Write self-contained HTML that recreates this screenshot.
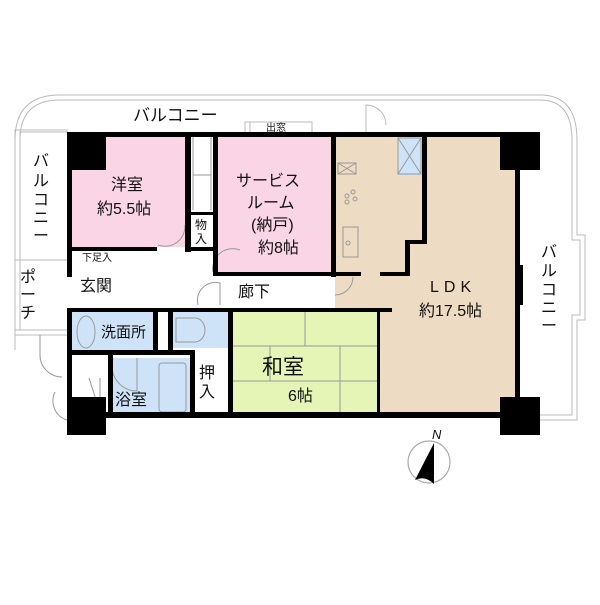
<!DOCTYPE html>
<html><head><meta charset="utf-8"><style>
body{margin:0;background:#fff}
svg text{font-family:"Liberation Sans","Noto Sans CJK JP",sans-serif;fill:#111}
</style></head><body>
<svg width="600" height="600" viewBox="0 0 600 600" xmlns="http://www.w3.org/2000/svg">
<g fill="none" stroke="#bbb" stroke-width="1">
<path d="M67,132 V130 H15 V140 Q15,95 60,95 H540 Q577,95 577,140 V235 H585 V320 H577 V420 H540"/>
<path d="M67,132 H20 V140 Q20,100 60,100 H540 Q572,100 572,140 V240 H580 V315 H572 V415 H540"/>
<path d="M15,140 V330 M20,140 V330 M15,260 H67 M15,330 H67 M15,335 H67 M15,330 V350"/>
<path d="M245,132 V122 H312 V132 M250,122 V132"/>
<path d="M366,132 V105 A20,20 0 0 1 386,125"/>
</g>
<rect x="72" y="137" width="113" height="110" fill="#f9d5e5"/>
<rect x="218" y="137" width="114" height="136" fill="#f9d5e5"/>
<rect x="335" y="137" width="92" height="135" fill="#eddcc3"/>
<rect x="427" y="137" width="93" height="278" fill="#eddcc3"/>
<rect x="335" y="272" width="92" height="38" fill="#eddcc3"/>
<rect x="378" y="308" width="50" height="107" fill="#eddcc3"/>
<rect x="232" y="310" width="146" height="105" fill="#e4f5b5"/>
<rect x="72" y="312" width="81" height="40" fill="#cfe3f8"/>
<rect x="172" y="312" width="56" height="36" fill="#cfe3f8"/>
<rect x="112" y="358" width="78" height="57" fill="#cfe3f8"/>
<rect x="397" y="137" width="25" height="38" fill="#cfe3f8"/>
<g stroke="#999" stroke-width="1" fill="none">
<line x1="232" y1="346" x2="378" y2="346"/><line x1="232" y1="381" x2="378" y2="381"/>
<line x1="305" y1="310" x2="305" y2="346"/><line x1="270" y1="346" x2="270" y2="381"/>
<line x1="340" y1="346" x2="340" y2="415"/>
<rect x="159" y="363" width="27" height="49" rx="3"/>
<ellipse cx="86" cy="332" rx="9" ry="16"/>
<rect x="343" y="227" width="15" height="30"/>
<circle cx="348" cy="243" r="2"/>
<circle cx="347" cy="196" r="2"/><circle cx="353" cy="192" r="2"/><circle cx="355" cy="199" r="2"/><circle cx="347" cy="202" r="2"/>
<rect x="398" y="138" width="23" height="36"/><path d="M398,138 L421,174 M421,138 L398,174"/>
<path d="M338,163 H356 V174 H338 Z M338,163 L356,174 M356,163 L338,174"/>
<path d="M193,137 V210 M211,137 V210 M193,175 H211"/>
<path d="M176,318 H195 A10,12 0 0 1 195,342 H176 Z"/>
<path d="M100,378 L100,412 M89,378 L100,412"/>
<path d="M112,366 A25,25 0 0 0 137,391 V358"/>
<path d="M40,355 A22,22 0 0 0 62,377 M40,355 V335 M55,392 A20,20 0 0 0 67,420"/>
<path d="M158,245 A20,20 0 0 0 185,225 M213,272 A20,20 0 0 1 240,250 M198,305 A18,18 0 0 1 220,283 V305 M335,295 A18,18 0 0 0 353,277"/>
</g>
<g fill="#000">
<rect x="67" y="132" width="473" height="5"/>
<rect x="67" y="132" width="5" height="145"/>
<rect x="67" y="412" width="453" height="6"/>
<rect x="515" y="137" width="5" height="278"/>
<rect x="67" y="132" width="39" height="38"/><rect x="500" y="132" width="40" height="38"/>
<rect x="500" y="397" width="40" height="38"/><rect x="67" y="397" width="39" height="38"/>
<rect x="185" y="137" width="6" height="115"/>
<rect x="213" y="137" width="5" height="138"/>
<rect x="72" y="247" width="85" height="4"/><rect x="185" y="247" width="33" height="4"/><rect x="190" y="212" width="28" height="3"/>
<rect x="213" y="272" width="122" height="4"/>
<rect x="331" y="137" width="5" height="140"/>
<rect x="331" y="272" width="30" height="4"/><rect x="380" y="272" width="30" height="4"/>
<rect x="405" y="240" width="5" height="35"/><rect x="405" y="240" width="22" height="4"/>
<rect x="422" y="137" width="5" height="106"/>
<rect x="67" y="308" width="325" height="4"/>
<rect x="67" y="308" width="5" height="110"/>
<rect x="153" y="308" width="5" height="45"/><rect x="168" y="308" width="5" height="45"/>
<rect x="228" y="308" width="5" height="110"/>
<rect x="72" y="350" width="120" height="5"/>
<rect x="108" y="350" width="5" height="68"/>
<rect x="190" y="350" width="5" height="68"/>
<rect x="377" y="308" width="3" height="107"/>
<rect x="518" y="265" width="5" height="40"/>
</g>
<g font-size="16">
<text x="133" y="121" font-size="17">バルコニー</text>
<text x="111" y="190">洋室</text><text x="97" y="214">約5.5帖</text>
<text x="236" y="186">サービス</text><text x="247" y="208">ルーム</text><text x="251" y="230">(納戸)</text><text x="258" y="253">約8帖</text>
<text x="80" y="291">玄関</text>
<text x="238" y="297">廊下</text>
<text x="101" y="337" font-size="15">洗面所</text>
<text x="115" y="405">浴室</text>
<text x="262" y="374" font-size="21">和室</text><text x="288" y="401">6帖</text>
<text x="430" y="292" letter-spacing="5">LDK</text><text x="419" y="316">約17.5帖</text>
<text x="82" y="261" font-size="10">下足入</text>
<text x="266" y="131" font-size="10">出窓</text>
</g>
<g font-size="16" text-anchor="middle">
<text x="41" y="166">バ</text><text x="41" y="186">ル</text><text x="41" y="205">コ</text><text x="41" y="223">ニ</text><text x="41" y="241">ー</text>
<text x="549" y="257">バ</text><text x="549" y="276">ル</text><text x="549" y="295">コ</text><text x="549" y="313">ニ</text><text x="549" y="331">ー</text>
<text x="28" y="282">ポ</text><text x="28" y="300">ー</text><text x="28" y="318">チ</text>
<text x="207" y="378">押</text><text x="207" y="397">入</text>
<text x="201" y="229" font-size="12">物</text><text x="201" y="243" font-size="12">入</text>
</g>
<circle cx="429" cy="462" r="21" fill="none" stroke="#aaa" stroke-width="1.2"/>
<path d="M434,443 L415,480 Q425,475 434,484 Z" fill="#000"/>
<text x="432" y="439" font-size="13" font-style="italic">N</text>
</svg>
</body></html>
